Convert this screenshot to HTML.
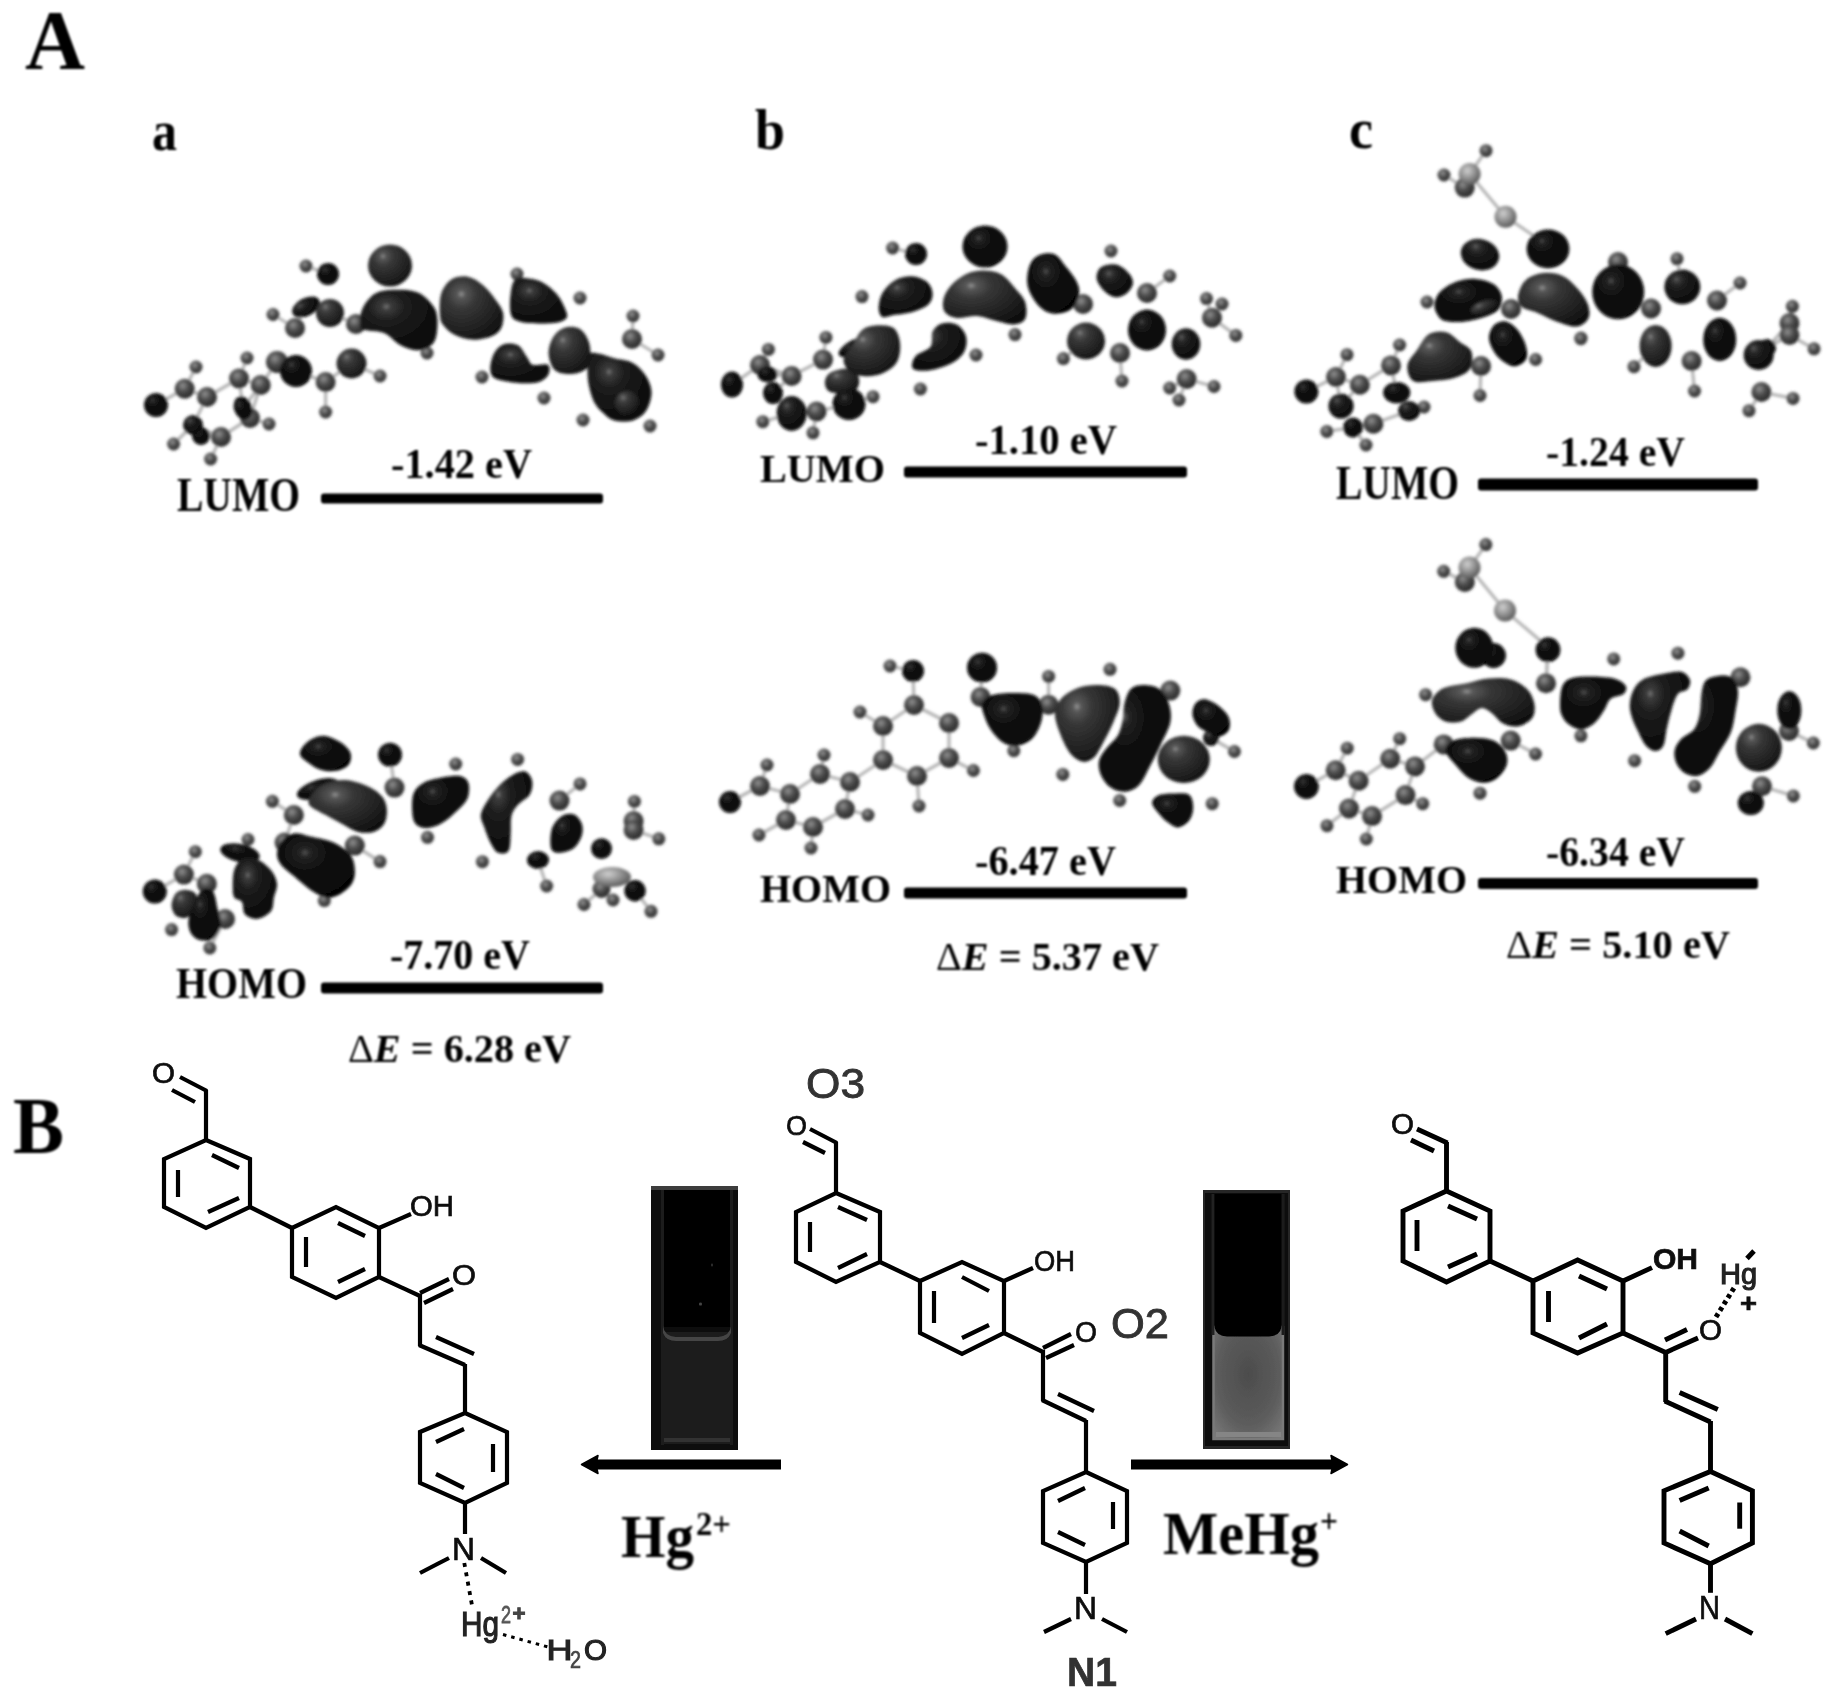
<!DOCTYPE html>
<html><head><meta charset="utf-8"><title>Figure</title>
<style>
html,body{margin:0;padding:0;background:#fff;}
body{width:1834px;height:1699px;overflow:hidden;font-family:"Liberation Serif",serif;}
svg{display:block;}
</style></head><body>
<svg width="1834" height="1699" viewBox="0 0 1834 1699">
<defs>
 <radialGradient id="gD" cx="0.34" cy="0.28" r="0.8"><stop offset="0" stop-color="#7a7a7a"/><stop offset="0.07" stop-color="#3c3c3c"/><stop offset="0.3" stop-color="#1d1d1d"/><stop offset="1" stop-color="#070707"/></radialGradient>
 <radialGradient id="gG" cx="0.34" cy="0.28" r="0.85"><stop offset="0" stop-color="#9a9a9a"/><stop offset="0.07" stop-color="#585858"/><stop offset="0.28" stop-color="#363636"/><stop offset="0.7" stop-color="#1f1f1f"/><stop offset="1" stop-color="#0b0b0b"/></radialGradient>
 <radialGradient id="gK" cx="0.36" cy="0.30" r="0.8"><stop offset="0" stop-color="#555555"/><stop offset="0.08" stop-color="#232323"/><stop offset="0.35" stop-color="#101010"/><stop offset="1" stop-color="#040404"/></radialGradient>
 <radialGradient id="gC" cx="0.40" cy="0.35" r="0.75"><stop offset="0" stop-color="#909090"/><stop offset="0.4" stop-color="#4c4c4c"/><stop offset="1" stop-color="#1e1e1e"/></radialGradient>
 <radialGradient id="gH" cx="0.40" cy="0.35" r="0.75"><stop offset="0" stop-color="#969696"/><stop offset="0.4" stop-color="#505050"/><stop offset="1" stop-color="#262626"/></radialGradient>
 <radialGradient id="gS" cx="0.40" cy="0.35" r="0.75"><stop offset="0" stop-color="#cfcfcf"/><stop offset="0.5" stop-color="#8c8c8c"/><stop offset="1" stop-color="#484848"/></radialGradient>
 <radialGradient id="gLiq" cx="0.5" cy="0.42" r="0.75"><stop offset="0" stop-color="#4c4c4c"/><stop offset="0.6" stop-color="#5c5c5c"/><stop offset="1" stop-color="#7c7c7c"/></radialGradient>
 <filter id="b1" x="-5%" y="-5%" width="110%" height="110%"><feGaussianBlur stdDeviation="1.5"/></filter>
 <filter id="b2" x="-5%" y="-5%" width="110%" height="110%"><feGaussianBlur stdDeviation="0.9"/></filter>
 <filter id="b3" x="-5%" y="-5%" width="110%" height="110%"><feGaussianBlur stdDeviation="0.7"/></filter>
</defs>
<rect width="1834" height="1699" fill="#fff"/>
<g filter="url(#b1)">
<g id="aL"><g stroke="#b4b4b4" stroke-width="3.2" stroke-linecap="round"><line x1="306" y1="266" x2="328" y2="274"/><line x1="273" y1="314.5" x2="295" y2="328"/><line x1="247" y1="358" x2="239" y2="378.5"/><line x1="196" y1="367" x2="184.7" y2="388.7"/><line x1="173.6" y1="444" x2="193" y2="425"/><line x1="210.6" y1="459" x2="221" y2="437"/><line x1="269" y1="424" x2="250" y2="418"/><line x1="325.6" y1="412" x2="325.6" y2="382"/><line x1="380" y1="376" x2="351.5" y2="363.5"/><line x1="633" y1="316" x2="632" y2="339"/><line x1="658" y1="355" x2="632" y2="339"/><line x1="184.7" y1="388.7" x2="207" y2="397"/><line x1="184.7" y1="388.7" x2="156" y2="405"/><line x1="207" y1="397" x2="193" y2="425"/><line x1="239" y1="378.5" x2="260.7" y2="385"/><line x1="239" y1="378.5" x2="243" y2="408"/><line x1="260.7" y1="385" x2="250" y2="418"/><line x1="260.7" y1="385" x2="277" y2="362"/><line x1="260.7" y1="385" x2="243" y2="408"/><line x1="221" y1="437" x2="250" y2="418"/><line x1="221" y1="437" x2="201" y2="436"/><line x1="221" y1="437" x2="193" y2="425"/><line x1="250" y1="418" x2="243" y2="408"/><line x1="295" y1="328" x2="306" y2="307"/><line x1="325.6" y1="382" x2="296" y2="371"/><line x1="325.6" y1="382" x2="351.5" y2="363.5"/><line x1="356" y1="324" x2="330" y2="313"/><line x1="207" y1="397" x2="239" y2="378.5"/><line x1="221" y1="437" x2="250" y2="418"/></g><ellipse cx="306" cy="266" rx="6.5" ry="6.5" fill="url(#gH)"/><ellipse cx="273" cy="314.5" rx="6.5" ry="6.5" fill="url(#gH)"/><ellipse cx="247" cy="358" rx="6.5" ry="6.5" fill="url(#gH)"/><ellipse cx="196" cy="367" rx="6.5" ry="6.5" fill="url(#gH)"/><ellipse cx="173.6" cy="444" rx="6.5" ry="6.5" fill="url(#gH)"/><ellipse cx="210.6" cy="459" rx="6.5" ry="6.5" fill="url(#gH)"/><ellipse cx="269" cy="424" rx="6.5" ry="6.5" fill="url(#gH)"/><ellipse cx="325.6" cy="412" rx="6.5" ry="6.5" fill="url(#gH)"/><ellipse cx="380" cy="376" rx="6.5" ry="6.5" fill="url(#gH)"/><ellipse cx="427" cy="353" rx="6.5" ry="6.5" fill="url(#gH)"/><ellipse cx="517" cy="274" rx="6.5" ry="6.5" fill="url(#gH)"/><ellipse cx="580" cy="298" rx="6.5" ry="6.5" fill="url(#gH)"/><ellipse cx="482" cy="377" rx="6.5" ry="6.5" fill="url(#gH)"/><ellipse cx="544" cy="398" rx="6.5" ry="6.5" fill="url(#gH)"/><ellipse cx="633" cy="316" rx="6.5" ry="6.5" fill="url(#gH)"/><ellipse cx="658" cy="355" rx="6.5" ry="6.5" fill="url(#gH)"/><ellipse cx="583" cy="420" rx="6.5" ry="6.5" fill="url(#gH)"/><ellipse cx="650" cy="426" rx="6.5" ry="6.5" fill="url(#gH)"/><ellipse cx="184.7" cy="388.7" rx="10" ry="10" fill="url(#gC)"/><ellipse cx="207" cy="397" rx="10" ry="10" fill="url(#gC)"/><ellipse cx="239" cy="378.5" rx="10" ry="10" fill="url(#gC)"/><ellipse cx="260.7" cy="385" rx="10" ry="10" fill="url(#gC)"/><ellipse cx="221" cy="437" rx="10" ry="10" fill="url(#gC)"/><ellipse cx="250" cy="418" rx="10" ry="10" fill="url(#gC)"/><ellipse cx="295" cy="328" rx="10" ry="10" fill="url(#gC)"/><ellipse cx="325.6" cy="382" rx="10" ry="10" fill="url(#gC)"/><ellipse cx="632" cy="339" rx="10" ry="10" fill="url(#gC)"/><ellipse cx="356" cy="324" rx="10" ry="10" fill="url(#gC)"/><ellipse cx="390" cy="265.5" rx="22" ry="21" fill="url(#gG)"/><ellipse cx="328" cy="274" rx="11" ry="11" fill="url(#gK)"/><ellipse cx="306" cy="307" rx="15" ry="9" fill="url(#gD)" transform="rotate(-28 306 307)"/><ellipse cx="330" cy="313" rx="14" ry="14" fill="url(#gG)"/><ellipse cx="277" cy="362" rx="11" ry="11" fill="url(#gC)"/><ellipse cx="296" cy="371" rx="16" ry="16" fill="url(#gK)"/><ellipse cx="351.5" cy="363.5" rx="15" ry="15" fill="url(#gG)"/><ellipse cx="156" cy="405" rx="12" ry="12" fill="url(#gK)"/><ellipse cx="201" cy="436" rx="9" ry="9" fill="url(#gK)"/><ellipse cx="243" cy="408" rx="9" ry="12" fill="url(#gK)" transform="rotate(-20 243 408)"/><ellipse cx="193" cy="425" rx="10" ry="10" fill="url(#gD)"/><path d="M360.4,327.7 C359.5,324.1 359.8,314.9 362.2,309.2 C364.7,303.4 369.7,296.6 375.2,293.4 C380.8,290.2 388.5,289.8 395.6,289.7 C402.7,289.5 411.7,289.8 417.9,292.5 C424.0,295.1 429.5,301.1 432.7,305.4 C435.9,309.8 436.9,312.9 437.3,318.4 C437.8,324.0 437.2,333.9 435.5,338.8 C433.8,343.8 430.7,346.2 427.1,348.1 C423.6,349.9 418.8,350.6 414.2,349.9 C409.5,349.3 404.3,347.2 399.3,344.4 C394.4,341.6 389.7,335.6 384.5,333.3 C379.2,330.9 371.8,331.4 367.8,330.5 C363.8,329.5 361.3,331.2 360.4,327.7Z" fill="url(#gD)"/><path d="M440.1,316.6 C439.6,311.3 439.2,300.5 441.0,294.3 C442.9,288.1 446.8,282.4 451.2,279.5 C455.7,276.6 462.7,275.8 467.9,276.7 C473.2,277.6 478.1,281.2 482.8,285.1 C487.4,288.9 492.3,295.3 495.7,299.9 C499.1,304.5 502.2,308.2 503.1,312.9 C504.1,317.5 503.1,323.8 501.3,327.7 C499.4,331.6 496.7,334.0 492.0,336.0 C487.4,338.0 479.7,339.9 473.5,339.7 C467.3,339.6 459.9,337.4 454.9,335.1 C450.0,332.8 446.3,328.9 443.8,325.8 C441.3,322.8 440.6,321.8 440.1,316.6Z" fill="url(#gG)"/><path d="M510.6,312.9 C509.6,308.5 509.8,299.9 510.6,294.3 C511.3,288.8 512.1,282.1 515.2,279.5 C518.3,276.9 524.3,277.9 529.1,278.6 C533.9,279.2 539.3,280.6 543.9,283.2 C548.6,285.8 553.4,290.0 556.9,294.3 C560.5,298.7 563.7,305.1 565.3,309.2 C566.8,313.2 568.2,316.1 566.2,318.4 C564.2,320.7 559.4,322.3 553.2,323.1 C547.0,323.8 535.3,323.5 529.1,323.1 C522.9,322.6 519.2,322.0 516.1,320.3 C513.0,318.6 511.5,317.2 510.6,312.9Z" fill="url(#gD)"/><path d="M490.2,368.5 C490.2,364.5 491.7,357.7 493.9,353.7 C496.0,349.6 499.1,345.8 503.1,344.4 C507.2,343.0 514.0,343.1 518.0,345.3 C522.0,347.5 524.8,354.1 527.2,357.4 C529.7,360.6 529.4,363.5 532.8,364.8 C536.2,366.0 545.0,363.2 547.6,364.8 C550.3,366.3 549.8,371.3 548.6,374.0 C547.3,376.8 544.1,379.9 540.2,381.5 C536.4,383.0 531.0,383.3 525.4,383.3 C519.8,383.3 512.1,382.4 506.9,381.5 C501.6,380.5 496.7,379.9 493.9,377.8 C491.1,375.6 490.2,372.5 490.2,368.5Z" fill="url(#gD)"/><path d="M588.4,353.7 C590.4,351.8 595.2,352.9 599.5,353.7 C603.9,354.4 608.8,356.7 614.4,358.3 C619.9,359.8 627.7,360.0 632.9,362.9 C638.2,365.9 642.8,371.0 645.9,375.9 C649.0,380.8 651.5,386.7 651.5,392.6 C651.5,398.5 649.0,406.5 645.9,411.1 C642.8,415.8 638.2,418.8 632.9,420.4 C627.7,421.9 619.3,421.6 614.4,420.4 C609.4,419.2 606.7,416.1 603.3,413.0 C599.9,409.9 596.5,406.8 594.0,401.9 C591.5,396.9 589.5,389.5 588.4,383.3 C587.3,377.1 587.5,369.7 587.5,364.8 C587.5,359.8 586.4,355.5 588.4,353.7Z" fill="url(#gD)"/><path d="M548.6,353.7 C548.3,348.1 550.6,341.3 553.2,337.0 C555.8,332.6 560.0,329.1 564.3,327.7 C568.6,326.3 575.1,326.5 579.2,328.6 C583.2,330.8 586.6,336.2 588.4,340.7 C590.3,345.2 590.6,350.9 590.3,355.5 C590.0,360.1 589.7,365.4 586.6,368.5 C583.5,371.6 577.0,373.7 571.7,374.0 C566.5,374.4 558.9,373.7 555.1,370.3 C551.2,366.9 548.9,359.2 548.6,353.7Z" fill="url(#gG)"/><ellipse cx="627" cy="403" rx="12" ry="12" fill="url(#gG)"/></g>
<g id="bL"><g stroke="#b4b4b4" stroke-width="3.2" stroke-linecap="round"><line x1="892.6" y1="248" x2="916" y2="254"/><line x1="825.9" y1="337.4" x2="823" y2="359.6"/><line x1="768.4" y1="349.4" x2="760" y2="365"/><line x1="762.8" y1="421.7" x2="791.6" y2="413.4"/><line x1="813" y1="432.8" x2="816.6" y2="411.5"/><line x1="873" y1="396.7" x2="849" y2="404"/><line x1="1169.7" y1="276" x2="1147" y2="293"/><line x1="1063.4" y1="358.6" x2="1086" y2="341"/><line x1="1122" y1="381" x2="1120" y2="353"/><line x1="1206.5" y1="298.6" x2="1212" y2="317.7"/><line x1="1222" y1="304" x2="1212" y2="317.7"/><line x1="1235.8" y1="335.4" x2="1212" y2="317.7"/><line x1="1169.7" y1="388" x2="1186.7" y2="379"/><line x1="1179" y1="400" x2="1186.7" y2="379"/><line x1="1214" y1="386.5" x2="1186.7" y2="379"/><line x1="791.6" y1="376" x2="760" y2="365"/><line x1="791.6" y1="376" x2="767.5" y2="374.4"/><line x1="791.6" y1="376" x2="773" y2="393"/><line x1="816.6" y1="411.5" x2="791.6" y2="413.4"/><line x1="816.6" y1="411.5" x2="849" y2="404"/><line x1="760" y1="365" x2="732" y2="384.6"/><line x1="760" y1="365" x2="767.5" y2="374.4"/><line x1="760" y1="365" x2="773" y2="393"/><line x1="791.6" y1="376" x2="823" y2="359.6"/></g><ellipse cx="892.6" cy="248" rx="6.5" ry="6.5" fill="url(#gH)"/><ellipse cx="862" cy="296.6" rx="6.5" ry="6.5" fill="url(#gH)"/><ellipse cx="825.9" cy="337.4" rx="6.5" ry="6.5" fill="url(#gH)"/><ellipse cx="768.4" cy="349.4" rx="6.5" ry="6.5" fill="url(#gH)"/><ellipse cx="762.8" cy="421.7" rx="6.5" ry="6.5" fill="url(#gH)"/><ellipse cx="813" cy="432.8" rx="6.5" ry="6.5" fill="url(#gH)"/><ellipse cx="873" cy="396.7" rx="6.5" ry="6.5" fill="url(#gH)"/><ellipse cx="920.4" cy="389" rx="6.5" ry="6.5" fill="url(#gH)"/><ellipse cx="976" cy="355" rx="6.5" ry="6.5" fill="url(#gH)"/><ellipse cx="1015" cy="334.6" rx="6.5" ry="6.5" fill="url(#gH)"/><ellipse cx="1111" cy="251" rx="6.5" ry="6.5" fill="url(#gH)"/><ellipse cx="1169.7" cy="276" rx="6.5" ry="6.5" fill="url(#gH)"/><ellipse cx="1063.4" cy="358.6" rx="6.5" ry="6.5" fill="url(#gH)"/><ellipse cx="1122" cy="381" rx="6.5" ry="6.5" fill="url(#gH)"/><ellipse cx="1206.5" cy="298.6" rx="6.5" ry="6.5" fill="url(#gH)"/><ellipse cx="1222" cy="304" rx="6.5" ry="6.5" fill="url(#gH)"/><ellipse cx="1235.8" cy="335.4" rx="6.5" ry="6.5" fill="url(#gH)"/><ellipse cx="1169.7" cy="388" rx="6.5" ry="6.5" fill="url(#gH)"/><ellipse cx="1179" cy="400" rx="6.5" ry="6.5" fill="url(#gH)"/><ellipse cx="1214" cy="386.5" rx="6.5" ry="6.5" fill="url(#gH)"/><ellipse cx="791.6" cy="376" rx="10" ry="10" fill="url(#gC)"/><ellipse cx="823" cy="359.6" rx="10" ry="10" fill="url(#gC)"/><ellipse cx="816.6" cy="411.5" rx="10" ry="10" fill="url(#gC)"/><ellipse cx="1083" cy="304" rx="10" ry="10" fill="url(#gC)"/><ellipse cx="1147" cy="293" rx="10" ry="10" fill="url(#gC)"/><ellipse cx="1120" cy="353" rx="10" ry="10" fill="url(#gC)"/><ellipse cx="1212" cy="317.7" rx="10" ry="10" fill="url(#gC)"/><ellipse cx="1186.7" cy="379" rx="10" ry="10" fill="url(#gC)"/><ellipse cx="760" cy="365" rx="10" ry="10" fill="url(#gC)"/><ellipse cx="985" cy="246.5" rx="22.5" ry="21" fill="url(#gK)"/><ellipse cx="916" cy="254" rx="11" ry="11" fill="url(#gK)"/><ellipse cx="732" cy="384.6" rx="11" ry="13" fill="url(#gK)"/><ellipse cx="767.5" cy="374.4" rx="10" ry="8" fill="url(#gK)"/><ellipse cx="773" cy="393" rx="10" ry="11" fill="url(#gK)"/><ellipse cx="791.6" cy="413.4" rx="15" ry="17.5" fill="url(#gD)"/><ellipse cx="849" cy="404" rx="16.5" ry="16" fill="url(#gK)"/><ellipse cx="1086" cy="341" rx="19" ry="18.4" fill="url(#gG)"/><ellipse cx="1147" cy="330" rx="19" ry="20.4" fill="url(#gK)"/><ellipse cx="1186" cy="344" rx="14.3" ry="15.7" fill="url(#gD)"/><path d="M943.6,298.4 C944.7,294.1 947.3,289.5 951.0,285.4 C954.7,281.4 960.6,276.8 965.8,274.3 C971.1,271.9 976.7,270.6 982.5,270.6 C988.4,270.6 995.5,271.2 1001.1,274.3 C1006.6,277.4 1011.9,284.5 1015.9,289.2 C1019.9,293.8 1023.6,297.2 1025.2,302.1 C1026.7,307.1 1027.0,315.1 1025.2,318.8 C1023.3,322.5 1019.0,324.1 1014.0,324.4 C1009.1,324.7 1001.7,322.1 995.5,320.7 C989.3,319.3 983.5,316.5 977.0,316.0 C970.5,315.6 962.0,318.7 956.6,317.9 C951.2,317.1 946.7,314.6 944.5,311.4 C942.4,308.2 942.5,302.8 943.6,298.4Z" fill="url(#gG)"/><path d="M878.7,307.7 C878.7,303.7 879.6,297.5 882.4,292.9 C885.2,288.2 890.4,282.7 895.4,279.9 C900.3,277.1 906.8,275.9 912.1,276.2 C917.3,276.5 923.5,279.0 926.9,281.7 C930.3,284.5 932.2,289.2 932.5,292.9 C932.8,296.6 931.9,300.9 928.8,304.0 C925.7,307.1 919.8,309.5 913.9,311.4 C908.1,313.3 898.8,314.2 893.5,315.1 C888.3,316.0 884.9,318.2 882.4,317.0 C879.9,315.7 878.7,311.7 878.7,307.7Z" fill="url(#gD)"/><ellipse cx="854" cy="347" rx="17" ry="7" fill="url(#gK)" transform="rotate(-28 854 347)"/><path d="M824.9,381.9 C825.3,378.8 826.8,374.7 830.5,372.6 C834.2,370.4 842.6,368.3 847.2,368.9 C851.8,369.5 856.8,372.9 858.3,376.3 C859.9,379.7 859.5,386.5 856.5,389.3 C853.4,392.0 844.4,392.7 839.8,393.0 C835.1,393.3 831.1,393.0 828.7,391.1 C826.2,389.3 824.6,384.9 824.9,381.9Z" fill="url(#gG)"/><path d="M843.5,359.6 C843.8,355.0 849.7,349.7 852.8,344.8 C855.8,339.8 858.0,333.2 862.0,329.9 C866.0,326.7 871.6,325.6 876.9,325.3 C882.1,325.0 889.7,325.2 893.5,328.1 C897.4,331.0 899.4,337.4 900.0,342.9 C900.6,348.5 899.9,356.5 897.2,361.5 C894.6,366.4 889.2,370.1 884.3,372.6 C879.3,375.1 873.1,376.3 867.6,376.3 C862.0,376.3 854.9,375.4 850.9,372.6 C846.9,369.8 843.2,364.2 843.5,359.6Z" fill="url(#gG)"/><path d="M912.1,367.0 C911.5,364.5 912.7,359.3 915.8,355.9 C918.9,352.5 927.8,350.6 930.6,346.6 C933.4,342.6 930.6,335.7 932.5,331.8 C934.3,327.9 937.7,324.7 941.7,323.5 C945.8,322.2 952.6,322.4 956.6,324.4 C960.6,326.4 964.4,331.2 965.8,335.5 C967.2,339.8 966.8,346.0 964.9,350.3 C963.1,354.7 959.5,358.4 954.7,361.5 C949.9,364.5 942.0,367.3 936.2,368.9 C930.3,370.4 923.5,371.0 919.5,370.7 C915.5,370.4 912.7,369.5 912.1,367.0Z" fill="url(#gD)"/><path d="M1027.3,283.6 C1026.6,277.7 1027.9,269.3 1030.0,264.5 C1032.0,259.8 1035.4,256.7 1039.5,255.0 C1043.6,253.3 1050.2,252.5 1054.5,254.3 C1058.8,256.1 1061.8,261.5 1065.4,265.9 C1069.1,270.3 1074.1,276.3 1076.3,280.9 C1078.6,285.4 1079.7,288.6 1079.1,293.2 C1078.4,297.7 1075.7,304.7 1072.2,308.2 C1068.8,311.6 1063.2,313.1 1058.6,313.6 C1054.1,314.1 1049.1,313.1 1045.0,310.9 C1040.9,308.6 1037.0,304.5 1034.1,300.0 C1031.1,295.4 1027.9,289.5 1027.3,283.6Z" fill="url(#gK)"/><path d="M1096.8,279.5 C1095.9,275.7 1097.5,271.1 1099.5,268.6 C1101.6,266.1 1105.6,265.0 1109.1,264.5 C1112.5,264.1 1116.5,264.3 1120.0,265.9 C1123.4,267.5 1127.3,271.1 1129.5,274.1 C1131.7,277.0 1133.4,280.4 1132.9,283.6 C1132.5,286.8 1129.6,290.9 1126.8,293.2 C1123.9,295.4 1119.5,297.5 1115.9,297.2 C1112.2,297.0 1108.1,294.7 1105.0,291.8 C1101.8,288.8 1097.7,283.4 1096.8,279.5Z" fill="url(#gD)"/></g>
<g id="cL"><g stroke="#b4b4b4" stroke-width="3.2" stroke-linecap="round"><line x1="1486" y1="150.7" x2="1469.6" y2="174"/><line x1="1444" y1="175" x2="1464.7" y2="187.6"/><line x1="1399.6" y1="345" x2="1391" y2="365.4"/><line x1="1347" y1="354.7" x2="1336" y2="377"/><line x1="1326.8" y1="431.4" x2="1353" y2="427.5"/><line x1="1366" y1="445" x2="1353" y2="427.5"/><line x1="1424" y1="407" x2="1409" y2="411"/><line x1="1480" y1="395.5" x2="1481" y2="366"/><line x1="1677" y1="258.8" x2="1682.3" y2="286.9"/><line x1="1740" y1="283" x2="1717" y2="300.5"/><line x1="1634" y1="366.7" x2="1655.6" y2="345.9"/><line x1="1694.5" y1="391" x2="1691.6" y2="361"/><line x1="1792.4" y1="306.3" x2="1789.5" y2="323"/><line x1="1814" y1="348.8" x2="1789.5" y2="335"/><line x1="1793" y1="398.4" x2="1761.4" y2="392"/><line x1="1749" y1="410.7" x2="1761.4" y2="392"/><line x1="1336" y1="377" x2="1359.8" y2="384.8"/><line x1="1336" y1="377" x2="1306.4" y2="391.6"/><line x1="1336" y1="377" x2="1341" y2="406"/><line x1="1359.8" y1="384.8" x2="1341" y2="406"/><line x1="1391" y1="365.4" x2="1396.7" y2="392.6"/><line x1="1373.4" y1="423.7" x2="1353" y2="427.5"/><line x1="1789.5" y1="323" x2="1789.5" y2="335"/><line x1="1789.5" y1="323" x2="1767" y2="348"/><line x1="1789.5" y1="335" x2="1767" y2="348"/><line x1="1618" y1="262" x2="1618.2" y2="291.9"/><line x1="1464.7" y1="187.6" x2="1469.6" y2="174"/><line x1="1469.6" y1="174" x2="1505.5" y2="216.7"/><line x1="1505.5" y1="216.7" x2="1540" y2="240"/><line x1="1359.8" y1="384.8" x2="1391" y2="365.4"/><line x1="1373.4" y1="423.7" x2="1409" y2="411"/></g><ellipse cx="1486" cy="150.7" rx="6.5" ry="6.5" fill="url(#gH)"/><ellipse cx="1444" cy="175" rx="6.5" ry="6.5" fill="url(#gH)"/><ellipse cx="1427" cy="302" rx="6.5" ry="6.5" fill="url(#gH)"/><ellipse cx="1399.6" cy="345" rx="6.5" ry="6.5" fill="url(#gH)"/><ellipse cx="1347" cy="354.7" rx="6.5" ry="6.5" fill="url(#gH)"/><ellipse cx="1326.8" cy="431.4" rx="6.5" ry="6.5" fill="url(#gH)"/><ellipse cx="1366" cy="445" rx="6.5" ry="6.5" fill="url(#gH)"/><ellipse cx="1424" cy="407" rx="6.5" ry="6.5" fill="url(#gH)"/><ellipse cx="1480" cy="395.5" rx="6.5" ry="6.5" fill="url(#gH)"/><ellipse cx="1535.6" cy="359.5" rx="6.5" ry="6.5" fill="url(#gH)"/><ellipse cx="1581" cy="338" rx="6.5" ry="6.5" fill="url(#gH)"/><ellipse cx="1677" cy="258.8" rx="6.5" ry="6.5" fill="url(#gH)"/><ellipse cx="1740" cy="283" rx="6.5" ry="6.5" fill="url(#gH)"/><ellipse cx="1634" cy="366.7" rx="6.5" ry="6.5" fill="url(#gH)"/><ellipse cx="1694.5" cy="391" rx="6.5" ry="6.5" fill="url(#gH)"/><ellipse cx="1792.4" cy="306.3" rx="6.5" ry="6.5" fill="url(#gH)"/><ellipse cx="1814" cy="348.8" rx="6.5" ry="6.5" fill="url(#gH)"/><ellipse cx="1793" cy="398.4" rx="6.5" ry="6.5" fill="url(#gH)"/><ellipse cx="1749" cy="410.7" rx="6.5" ry="6.5" fill="url(#gH)"/><ellipse cx="1580.8" cy="338.7" rx="6.5" ry="6.5" fill="url(#gH)"/><ellipse cx="1336" cy="377" rx="10" ry="10" fill="url(#gC)"/><ellipse cx="1359.8" cy="384.8" rx="10" ry="10" fill="url(#gC)"/><ellipse cx="1391" cy="365.4" rx="10" ry="10" fill="url(#gC)"/><ellipse cx="1373.4" cy="423.7" rx="10" ry="10" fill="url(#gC)"/><ellipse cx="1481" cy="366" rx="10" ry="10" fill="url(#gC)"/><ellipse cx="1651" cy="308.5" rx="10" ry="10" fill="url(#gC)"/><ellipse cx="1717" cy="300.5" rx="10" ry="10" fill="url(#gC)"/><ellipse cx="1691.6" cy="361" rx="10" ry="10" fill="url(#gC)"/><ellipse cx="1789.5" cy="323" rx="10" ry="10" fill="url(#gC)"/><ellipse cx="1789.5" cy="335" rx="10" ry="10" fill="url(#gC)"/><ellipse cx="1761.4" cy="392" rx="10" ry="10" fill="url(#gC)"/><ellipse cx="1511" cy="309" rx="10" ry="10" fill="url(#gC)"/><ellipse cx="1618" cy="262" rx="10" ry="10" fill="url(#gC)"/><ellipse cx="1464.7" cy="187.6" rx="10" ry="10" fill="url(#gC)"/><ellipse cx="1469.6" cy="174" rx="11" ry="11" fill="url(#gS)"/><ellipse cx="1505.5" cy="216.7" rx="11" ry="11" fill="url(#gS)"/><ellipse cx="1548" cy="248.8" rx="21.4" ry="19.4" fill="url(#gK)"/><ellipse cx="1480" cy="254.6" rx="19.4" ry="15.5" fill="url(#gD)" transform="rotate(15 1480 254.6)"/><ellipse cx="1618.2" cy="291.9" rx="26" ry="27.4" fill="url(#gK)"/><ellipse cx="1682.3" cy="286.9" rx="18" ry="17.3" fill="url(#gD)"/><ellipse cx="1655.6" cy="345.9" rx="16" ry="21" fill="url(#gG)"/><ellipse cx="1719.7" cy="339.4" rx="16.5" ry="21.6" fill="url(#gK)"/><ellipse cx="1767" cy="348" rx="9" ry="9" fill="url(#gK)"/><ellipse cx="1758.6" cy="355" rx="15" ry="15" fill="url(#gD)"/><ellipse cx="1306.4" cy="391.6" rx="12" ry="12" fill="url(#gK)"/><ellipse cx="1396.7" cy="392.6" rx="13.6" ry="10.7" fill="url(#gK)"/><ellipse cx="1341" cy="406" rx="12.6" ry="12.6" fill="url(#gD)"/><ellipse cx="1409" cy="411" rx="11" ry="10" fill="url(#gD)"/><ellipse cx="1353" cy="427.5" rx="10" ry="10" fill="url(#gK)"/><path d="M1434.6,303.2 C1435.2,299.6 1436.9,295.1 1440.4,291.5 C1444.0,288.0 1450.1,283.9 1456.0,281.8 C1461.8,279.7 1469.2,278.6 1475.4,278.9 C1481.6,279.2 1488.5,281.0 1492.9,283.8 C1497.3,286.5 1500.7,291.2 1501.6,295.4 C1502.6,299.6 1501.5,305.5 1498.7,309.0 C1496.0,312.6 1490.9,314.7 1485.1,316.8 C1479.3,318.9 1470.5,321.0 1463.7,321.7 C1456.9,322.3 1448.8,322.1 1444.3,320.7 C1439.8,319.2 1438.2,315.8 1436.5,312.9 C1434.9,310.0 1434.0,306.8 1434.6,303.2Z" fill="url(#gK)"/><ellipse cx="1484" cy="307" rx="14" ry="6" fill="url(#gG)" transform="rotate(-20 1484 307)"/><path d="M1518.1,295.4 C1518.8,290.9 1521.7,283.6 1525.9,279.9 C1530.1,276.2 1537.3,273.7 1543.4,273.1 C1549.6,272.4 1557.0,273.2 1562.8,276.0 C1568.7,278.8 1574.2,284.7 1578.4,289.6 C1582.6,294.5 1586.5,300.3 1588.1,305.1 C1589.7,310.0 1590.0,315.2 1588.1,318.7 C1586.1,322.3 1581.6,326.0 1576.4,326.5 C1571.3,327.0 1563.5,323.9 1557.0,321.7 C1550.5,319.4 1543.4,315.3 1537.6,312.9 C1531.7,310.5 1525.3,310.0 1522.0,307.1 C1518.8,304.2 1517.5,300.0 1518.1,295.4Z" fill="url(#gG)"/><path d="M1489.0,336.2 C1489.5,332.3 1491.9,327.0 1494.8,324.6 C1497.7,322.1 1502.6,320.7 1506.5,321.7 C1510.4,322.6 1514.9,326.4 1518.1,330.4 C1521.4,334.4 1524.6,341.1 1525.9,345.9 C1527.2,350.8 1527.9,356.1 1525.9,359.5 C1524.0,362.9 1518.5,366.3 1514.3,366.3 C1510.1,366.3 1504.4,362.6 1500.7,359.5 C1496.9,356.5 1493.9,351.8 1491.9,347.9 C1490.0,344.0 1488.5,340.1 1489.0,336.2Z" fill="url(#gK)"/><path d="M1407.4,365.4 C1408.0,360.2 1413.6,355.0 1417.1,349.8 C1420.7,344.6 1423.9,337.2 1428.8,334.3 C1433.6,331.4 1441.1,331.0 1446.3,332.3 C1451.4,333.6 1455.6,338.8 1459.9,342.1 C1464.1,345.3 1469.9,347.2 1471.5,351.8 C1473.1,356.3 1472.5,364.9 1469.6,369.3 C1466.7,373.6 1460.2,376.1 1454.0,378.0 C1447.9,379.9 1439.5,380.4 1432.7,380.9 C1425.9,381.4 1417.4,383.5 1413.2,380.9 C1409.0,378.3 1406.8,370.6 1407.4,365.4Z" fill="url(#gG)"/></g>
<g id="aH"><g stroke="#b4b4b4" stroke-width="3.2" stroke-linecap="round"><line x1="272.4" y1="801.3" x2="293.8" y2="815"/><line x1="195.3" y1="851.7" x2="183.9" y2="874.6"/><line x1="209.8" y1="947.9" x2="225" y2="919"/><line x1="380" y1="861.6" x2="354.8" y2="845.6"/><line x1="580" y1="783.9" x2="559.5" y2="800.6"/><line x1="546.6" y1="886" x2="538" y2="860"/><line x1="634.4" y1="801.4" x2="633.6" y2="821"/><line x1="658.8" y1="838.8" x2="633.6" y2="830"/><line x1="584" y1="904.5" x2="601.5" y2="889"/><line x1="613" y1="900" x2="601.5" y2="889"/><line x1="651" y1="911.3" x2="635" y2="890.7"/><line x1="293.8" y1="815" x2="284.6" y2="842.6"/><line x1="394.5" y1="787.6" x2="390" y2="754.8"/><line x1="633.6" y1="821" x2="633.6" y2="830"/><line x1="183.9" y1="874.6" x2="206.8" y2="883.8"/><line x1="183.9" y1="874.6" x2="154.8" y2="891.4"/></g><ellipse cx="272.4" cy="801.3" rx="6.5" ry="6.5" fill="url(#gH)"/><ellipse cx="195.3" cy="851.7" rx="6.5" ry="6.5" fill="url(#gH)"/><ellipse cx="248" cy="839.5" rx="6.5" ry="6.5" fill="url(#gH)"/><ellipse cx="171.6" cy="929.6" rx="6.5" ry="6.5" fill="url(#gH)"/><ellipse cx="209.8" cy="947.9" rx="6.5" ry="6.5" fill="url(#gH)"/><ellipse cx="324.3" cy="900.6" rx="6.5" ry="6.5" fill="url(#gH)"/><ellipse cx="380" cy="861.6" rx="6.5" ry="6.5" fill="url(#gH)"/><ellipse cx="427.5" cy="837.3" rx="6.5" ry="6.5" fill="url(#gH)"/><ellipse cx="455.7" cy="764" rx="6.5" ry="6.5" fill="url(#gH)"/><ellipse cx="517.6" cy="759.4" rx="6.5" ry="6.5" fill="url(#gH)"/><ellipse cx="580" cy="783.9" rx="6.5" ry="6.5" fill="url(#gH)"/><ellipse cx="482.4" cy="861.7" rx="6.5" ry="6.5" fill="url(#gH)"/><ellipse cx="546.6" cy="886" rx="6.5" ry="6.5" fill="url(#gH)"/><ellipse cx="634.4" cy="801.4" rx="6.5" ry="6.5" fill="url(#gH)"/><ellipse cx="658.8" cy="838.8" rx="6.5" ry="6.5" fill="url(#gH)"/><ellipse cx="584" cy="904.5" rx="6.5" ry="6.5" fill="url(#gH)"/><ellipse cx="613" cy="900" rx="6.5" ry="6.5" fill="url(#gH)"/><ellipse cx="651" cy="911.3" rx="6.5" ry="6.5" fill="url(#gH)"/><ellipse cx="293.8" cy="815" rx="10" ry="10" fill="url(#gC)"/><ellipse cx="394.5" cy="787.6" rx="10" ry="10" fill="url(#gC)"/><ellipse cx="559.5" cy="800.6" rx="10" ry="10" fill="url(#gC)"/><ellipse cx="633.6" cy="821" rx="10" ry="10" fill="url(#gC)"/><ellipse cx="633.6" cy="830" rx="10" ry="10" fill="url(#gC)"/><ellipse cx="284.6" cy="842.6" rx="10" ry="10" fill="url(#gC)"/><ellipse cx="354.8" cy="845.6" rx="10" ry="10" fill="url(#gC)"/><ellipse cx="183.9" cy="874.6" rx="10" ry="10" fill="url(#gC)"/><ellipse cx="206.8" cy="883.8" rx="10" ry="10" fill="url(#gC)"/><ellipse cx="225" cy="919" rx="10" ry="10" fill="url(#gC)"/><ellipse cx="390" cy="754.8" rx="12" ry="12" fill="url(#gK)"/><ellipse cx="154.8" cy="891.4" rx="12" ry="12" fill="url(#gK)"/><ellipse cx="601.5" cy="848.7" rx="10.4" ry="10.4" fill="url(#gK)"/><ellipse cx="635" cy="890.7" rx="10.7" ry="10.7" fill="url(#gK)"/><ellipse cx="601.5" cy="889" rx="9" ry="9" fill="url(#gC)"/><ellipse cx="538" cy="860" rx="11" ry="9" fill="url(#gK)"/><ellipse cx="612" cy="877" rx="19" ry="10" fill="url(#gS)"/><path d="M299.9,754.0 C299.6,750.4 303.7,744.8 307.5,741.8 C311.3,738.7 317.4,735.7 322.8,735.7 C328.1,735.7 335.0,739.0 339.6,741.8 C344.2,744.6 348.7,748.7 350.3,752.5 C351.8,756.3 351.0,761.6 348.7,764.7 C346.5,767.7 341.1,769.9 336.5,770.8 C331.9,771.7 325.8,771.3 321.3,770.0 C316.7,768.8 312.6,765.8 309.0,763.2 C305.5,760.5 300.1,757.6 299.9,754.0Z" fill="url(#gK)"/><ellipse cx="318" cy="789" rx="22" ry="9" fill="url(#gK)" transform="rotate(-18 318 789)"/><path d="M309.0,804.4 C307.0,800.6 310.8,795.7 313.6,792.2 C316.4,788.6 320.5,785.1 325.8,783.0 C331.2,781.0 338.8,779.5 345.7,780.0 C352.6,780.5 361.0,783.3 367.1,786.1 C373.2,788.9 379.0,792.7 382.3,796.8 C385.6,800.8 386.7,805.9 386.9,810.5 C387.2,815.1 386.1,820.7 383.9,824.2 C381.6,827.8 377.5,830.6 373.2,831.9 C368.8,833.1 363.0,833.1 357.9,831.9 C352.8,830.6 348.0,827.0 342.6,824.2 C337.3,821.4 331.4,818.4 325.8,815.1 C320.2,811.8 311.1,808.2 309.0,804.4Z" fill="url(#gG)"/><path d="M277.0,854.8 C277.0,850.7 278.8,844.6 281.6,841.0 C284.4,837.5 288.9,834.2 293.8,833.4 C298.6,832.6 304.0,834.9 310.6,836.5 C317.2,838.0 326.9,839.5 333.5,842.6 C340.1,845.6 346.7,850.2 350.3,854.8 C353.8,859.4 354.6,865.2 354.8,870.0 C355.1,874.9 354.3,879.7 351.8,883.8 C349.2,887.8 343.9,892.2 339.6,894.5 C335.3,896.8 330.7,898.3 325.8,897.5 C321.0,896.8 315.9,893.4 310.6,889.9 C305.2,886.3 298.6,880.2 293.8,876.1 C288.9,872.1 284.4,869.0 281.6,865.5 C278.8,861.9 277.0,858.8 277.0,854.8Z" fill="url(#gK)"/><ellipse cx="240" cy="853" rx="20" ry="9" fill="url(#gK)" transform="rotate(12 240 853)"/><path d="M232.7,886.8 C232.7,882.3 232.7,874.6 234.2,870.0 C235.8,865.5 238.1,861.1 241.9,859.4 C245.7,857.6 252.3,857.6 257.1,859.4 C262.0,861.1 267.6,866.0 270.9,870.0 C274.2,874.1 276.5,879.2 277.0,883.8 C277.5,888.4 274.9,892.9 273.9,897.5 C272.9,902.1 273.7,907.7 270.9,911.3 C268.1,914.8 261.5,918.4 257.1,918.9 C252.8,919.4 247.5,917.1 244.9,914.3 C242.4,911.5 243.7,904.9 241.9,902.1 C240.1,899.3 235.8,900.1 234.2,897.5 C232.7,895.0 232.7,891.4 232.7,886.8Z" fill="url(#gD)"/><path d="M171.6,905.2 C171.6,901.3 173.7,895.5 176.2,892.9 C178.8,890.4 183.6,889.6 186.9,889.9 C190.2,890.1 194.5,891.4 196.1,894.5 C197.6,897.5 197.6,904.4 196.1,908.2 C194.5,912.0 190.2,916.1 186.9,917.4 C183.6,918.6 178.8,917.9 176.2,915.8 C173.7,913.8 171.6,909.0 171.6,905.2Z" fill="url(#gG)"/><path d="M188.4,921.9 C188.7,917.1 190.7,910.5 193.0,905.2 C195.3,899.8 198.9,892.2 202.2,889.9 C205.5,887.6 210.3,888.4 212.9,891.4 C215.4,894.5 216.2,902.6 217.4,908.2 C218.7,913.8 221.3,919.9 220.5,925.0 C219.7,930.1 216.2,936.2 212.9,938.7 C209.6,941.3 204.2,941.0 200.6,940.3 C197.1,939.5 193.5,937.2 191.5,934.2 C189.5,931.1 188.2,926.8 188.4,921.9Z" fill="url(#gK)"/><path d="M412.2,811.3 C412.0,806.2 411.7,797.8 413.7,793.0 C415.8,788.2 419.3,785.0 424.4,782.3 C429.5,779.7 438.2,778.0 444.3,777.0 C450.4,776.0 457.0,775.1 461.1,776.2 C465.1,777.4 467.7,780.0 468.7,783.9 C469.7,787.7 469.2,794.5 467.2,799.1 C465.1,803.7 460.8,807.3 456.5,811.3 C452.2,815.4 446.3,820.8 441.2,823.5 C436.1,826.3 430.3,828.1 426.0,828.1 C421.6,828.1 417.6,826.3 415.3,823.5 C413.0,820.8 412.5,816.4 412.2,811.3Z" fill="url(#gK)"/><path d="M480.9,814.4 C481.7,809.8 485.5,804.0 488.5,799.1 C491.6,794.3 495.2,789.5 499.2,785.4 C503.3,781.3 508.7,777.0 513.0,774.7 C517.3,772.4 522.0,770.6 525.2,771.6 C528.4,772.7 531.3,777.0 532.1,780.8 C532.8,784.6 532.2,790.5 529.8,794.5 C527.4,798.6 520.6,801.7 517.6,805.2 C514.5,808.8 512.6,811.1 511.5,815.9 C510.3,820.8 511.2,828.4 510.7,834.2 C510.2,840.1 510.6,848.0 508.4,851.0 C506.2,854.1 500.8,854.1 497.7,852.6 C494.7,851.0 492.4,846.2 490.1,841.9 C487.8,837.5 485.5,831.2 484.0,826.6 C482.4,822.0 480.2,819.0 480.9,814.4Z" fill="url(#gD)"/><path d="M550.4,841.9 C550.4,837.8 550.8,830.9 552.7,826.6 C554.6,822.3 558.3,818.0 561.8,815.9 C565.4,813.9 570.7,813.1 574.0,814.4 C577.4,815.7 580.4,820.0 581.7,823.5 C583.0,827.1 583.0,831.7 581.7,835.8 C580.4,839.8 577.4,845.2 574.0,848.0 C570.7,850.8 565.4,852.0 561.8,852.6 C558.3,853.1 554.6,852.8 552.7,851.0 C550.8,849.2 550.4,845.9 550.4,841.9Z" fill="url(#gK)"/></g>
<g id="bH"><g stroke="#b4b4b4" stroke-width="3.2" stroke-linecap="round"><line x1="890" y1="666" x2="913" y2="671"/><line x1="860" y1="712" x2="883" y2="726"/><line x1="824" y1="755" x2="820" y2="774"/><line x1="767" y1="765" x2="760" y2="786"/><line x1="759" y1="835" x2="786" y2="820"/><line x1="811" y1="848" x2="813" y2="827"/><line x1="868" y1="815" x2="845" y2="809"/><line x1="919" y1="806" x2="917" y2="776"/><line x1="973.4" y1="770.5" x2="949" y2="758"/><line x1="1048.6" y1="676.4" x2="1048.6" y2="704.8"/><line x1="1234.4" y1="751.5" x2="1211" y2="738"/><line x1="914" y1="705" x2="883" y2="726"/><line x1="914" y1="705" x2="949" y2="723"/><line x1="914" y1="705" x2="913" y2="671"/><line x1="883" y1="726" x2="883" y2="760"/><line x1="949" y1="723" x2="949" y2="758"/><line x1="883" y1="760" x2="917" y2="776"/><line x1="883" y1="760" x2="850" y2="782"/><line x1="949" y1="758" x2="917" y2="776"/><line x1="850" y1="782" x2="820" y2="774"/><line x1="850" y1="782" x2="845" y2="809"/><line x1="820" y1="774" x2="790" y2="794"/><line x1="790" y1="794" x2="760" y2="786"/><line x1="790" y1="794" x2="786" y2="820"/><line x1="760" y1="786" x2="730" y2="802"/><line x1="845" y1="809" x2="813" y2="827"/><line x1="786" y1="820" x2="813" y2="827"/><line x1="980.6" y1="697" x2="982" y2="667.7"/></g><ellipse cx="890" cy="666" rx="6.5" ry="6.5" fill="url(#gH)"/><ellipse cx="860" cy="712" rx="6.5" ry="6.5" fill="url(#gH)"/><ellipse cx="824" cy="755" rx="6.5" ry="6.5" fill="url(#gH)"/><ellipse cx="767" cy="765" rx="6.5" ry="6.5" fill="url(#gH)"/><ellipse cx="759" cy="835" rx="6.5" ry="6.5" fill="url(#gH)"/><ellipse cx="811" cy="848" rx="6.5" ry="6.5" fill="url(#gH)"/><ellipse cx="868" cy="815" rx="6.5" ry="6.5" fill="url(#gH)"/><ellipse cx="919" cy="806" rx="6.5" ry="6.5" fill="url(#gH)"/><ellipse cx="973.4" cy="770.5" rx="6.5" ry="6.5" fill="url(#gH)"/><ellipse cx="1013.8" cy="750.7" rx="6.5" ry="6.5" fill="url(#gH)"/><ellipse cx="1048.6" cy="676.4" rx="6.5" ry="6.5" fill="url(#gH)"/><ellipse cx="1110" cy="669.3" rx="6.5" ry="6.5" fill="url(#gH)"/><ellipse cx="1062.8" cy="774.4" rx="6.5" ry="6.5" fill="url(#gH)"/><ellipse cx="1119.7" cy="800.5" rx="6.5" ry="6.5" fill="url(#gH)"/><ellipse cx="1234.4" cy="751.5" rx="6.5" ry="6.5" fill="url(#gH)"/><ellipse cx="1212.2" cy="803.7" rx="6.5" ry="6.5" fill="url(#gH)"/><ellipse cx="914" cy="705" rx="10" ry="10" fill="url(#gC)"/><ellipse cx="883" cy="726" rx="10" ry="10" fill="url(#gC)"/><ellipse cx="949" cy="723" rx="10" ry="10" fill="url(#gC)"/><ellipse cx="883" cy="760" rx="10" ry="10" fill="url(#gC)"/><ellipse cx="949" cy="758" rx="10" ry="10" fill="url(#gC)"/><ellipse cx="917" cy="776" rx="10" ry="10" fill="url(#gC)"/><ellipse cx="850" cy="782" rx="10" ry="10" fill="url(#gC)"/><ellipse cx="820" cy="774" rx="10" ry="10" fill="url(#gC)"/><ellipse cx="790" cy="794" rx="10" ry="10" fill="url(#gC)"/><ellipse cx="760" cy="786" rx="10" ry="10" fill="url(#gC)"/><ellipse cx="845" cy="809" rx="10" ry="10" fill="url(#gC)"/><ellipse cx="786" cy="820" rx="10" ry="10" fill="url(#gC)"/><ellipse cx="813" cy="827" rx="10" ry="10" fill="url(#gC)"/><ellipse cx="980.6" cy="697" rx="10" ry="10" fill="url(#gC)"/><ellipse cx="1048.6" cy="704.8" rx="10" ry="10" fill="url(#gC)"/><ellipse cx="1170.3" cy="690.6" rx="10" ry="10" fill="url(#gC)"/><ellipse cx="982" cy="667.7" rx="15" ry="15" fill="url(#gK)"/><ellipse cx="913" cy="671" rx="11" ry="11" fill="url(#gK)"/><ellipse cx="730" cy="802" rx="11" ry="11" fill="url(#gK)"/><ellipse cx="1211" cy="738" rx="8" ry="8" fill="url(#gD)"/><path d="M982.1,703.3 C983.5,700.1 986.4,697.1 991.6,695.3 C996.9,693.6 1006.6,693.0 1013.8,693.0 C1020.9,693.0 1029.6,693.1 1034.3,695.3 C1039.1,697.6 1041.2,701.7 1042.2,706.4 C1043.3,711.2 1042.5,718.3 1040.6,723.8 C1038.8,729.3 1035.4,735.9 1031.2,739.6 C1026.9,743.3 1020.4,745.7 1015.3,745.9 C1010.3,746.2 1005.3,744.1 1001.1,741.2 C996.9,738.3 992.9,733.0 990.0,728.6 C987.1,724.1 985.0,718.5 983.7,714.3 C982.4,710.1 980.8,706.4 982.1,703.3Z" fill="url(#gK)"/><path d="M1054.9,714.3 C1054.9,708.0 1057.5,702.9 1061.2,698.5 C1064.9,694.2 1071.0,690.5 1077.0,688.2 C1083.1,686.0 1091.2,684.9 1097.6,685.1 C1103.9,685.2 1111.3,686.0 1115.0,689.0 C1118.7,692.1 1120.0,697.7 1119.7,703.3 C1119.4,708.8 1116.0,715.9 1113.4,722.2 C1110.7,728.6 1107.1,735.4 1103.9,741.2 C1100.7,747.0 1097.8,753.6 1094.4,757.0 C1091.0,760.4 1087.3,762.3 1083.3,761.8 C1079.4,761.2 1074.4,758.1 1070.7,753.9 C1067.0,749.6 1063.8,743.0 1061.2,736.5 C1058.6,729.9 1054.9,720.6 1054.9,714.3Z" fill="url(#gG)"/><path d="M1124.5,703.3 C1125.8,698.2 1127.6,692.1 1130.8,689.0 C1133.9,686.0 1138.7,685.1 1143.4,685.1 C1148.2,685.1 1155.0,686.0 1159.2,689.0 C1163.5,692.1 1166.9,697.7 1168.7,703.3 C1170.6,708.8 1171.6,715.4 1170.3,722.2 C1169.0,729.1 1164.2,737.0 1160.8,744.4 C1157.4,751.7 1153.4,759.7 1149.8,766.5 C1146.1,773.4 1142.9,781.3 1138.7,785.5 C1134.5,789.7 1129.2,791.5 1124.5,791.8 C1119.7,792.1 1114.2,790.0 1110.2,787.1 C1106.3,784.2 1102.6,778.9 1100.7,774.4 C1098.9,769.9 1098.1,764.7 1099.2,760.2 C1100.2,755.7 1103.9,751.7 1107.1,747.5 C1110.2,743.3 1115.5,739.6 1118.1,734.9 C1120.8,730.1 1121.8,724.3 1122.9,719.1 C1123.9,713.8 1123.1,708.3 1124.5,703.3Z" fill="url(#gK)"/><path d="M1192.4,714.3 C1192.2,710.6 1193.5,705.8 1195.6,703.3 C1197.7,700.7 1201.1,698.8 1205.1,699.3 C1209.1,699.8 1215.4,703.4 1219.3,706.4 C1223.3,709.4 1227.2,713.5 1228.8,717.5 C1230.4,721.4 1230.4,727.0 1228.8,730.1 C1227.2,733.3 1223.0,736.2 1219.3,736.5 C1215.6,736.7 1210.4,733.6 1206.7,731.7 C1203.0,729.9 1199.6,728.3 1197.2,725.4 C1194.8,722.5 1192.7,718.0 1192.4,714.3Z" fill="url(#gK)"/><ellipse cx="1183.8" cy="759.4" rx="26" ry="23.7" fill="url(#gG)"/><path d="M1152.1,802.9 C1152.1,799.7 1155.4,796.5 1159.2,795.0 C1163.1,793.4 1170.0,793.4 1175.1,793.4 C1180.1,793.4 1186.3,792.6 1189.3,795.0 C1192.3,797.3 1193.2,803.4 1193.2,807.6 C1193.2,811.8 1191.8,817.0 1189.3,820.3 C1186.8,823.6 1181.9,827.1 1178.2,827.4 C1174.5,827.6 1170.3,824.1 1167.1,821.8 C1164.0,819.6 1161.7,817.1 1159.2,813.9 C1156.7,810.8 1152.1,806.0 1152.1,802.9Z" fill="url(#gK)"/></g>
<g id="cH"><g stroke="#b4b4b4" stroke-width="3.2" stroke-linecap="round"><line x1="1485.8" y1="544.6" x2="1469.5" y2="567.5"/><line x1="1443.7" y1="571.3" x2="1464.8" y2="581.9"/><line x1="1399.7" y1="738.7" x2="1390.2" y2="758.8"/><line x1="1347.2" y1="748.2" x2="1335.7" y2="770.2"/><line x1="1327" y1="825.7" x2="1349" y2="808.5"/><line x1="1366.3" y1="839" x2="1372" y2="816.1"/><line x1="1422.7" y1="803.7" x2="1405.5" y2="795.1"/><line x1="1535.5" y1="754" x2="1510.7" y2="740.6"/><line x1="1813.3" y1="743" x2="1789" y2="731"/><line x1="1793.3" y1="795.9" x2="1762" y2="786.3"/><line x1="1335.7" y1="770.2" x2="1358.6" y2="780.7"/><line x1="1335.7" y1="770.2" x2="1306.4" y2="786.5"/><line x1="1358.6" y1="780.7" x2="1349" y2="808.5"/><line x1="1390.2" y1="758.8" x2="1415" y2="766.4"/><line x1="1415" y1="766.4" x2="1405.5" y2="795.1"/><line x1="1349" y1="808.5" x2="1372" y2="816.1"/><line x1="1546" y1="683.2" x2="1548" y2="649.7"/><line x1="1762" y1="786.3" x2="1750.8" y2="803.1"/><line x1="1464.8" y1="581.9" x2="1469.5" y2="567.5"/><line x1="1789" y1="731" x2="1789.3" y2="710.2"/><line x1="1469.5" y1="567.5" x2="1505" y2="610.5"/><line x1="1505" y1="610.5" x2="1543" y2="643"/><line x1="1548" y1="649.7" x2="1546" y2="683.2"/><line x1="1358.6" y1="780.7" x2="1390.2" y2="758.8"/><line x1="1405.5" y1="795.1" x2="1372" y2="816.1"/><line x1="1415" y1="766.4" x2="1443.7" y2="744.4"/></g><ellipse cx="1485.8" cy="544.6" rx="6.5" ry="6.5" fill="url(#gH)"/><ellipse cx="1443.7" cy="571.3" rx="6.5" ry="6.5" fill="url(#gH)"/><ellipse cx="1425.6" cy="694.7" rx="6.5" ry="6.5" fill="url(#gH)"/><ellipse cx="1399.7" cy="738.7" rx="6.5" ry="6.5" fill="url(#gH)"/><ellipse cx="1347.2" cy="748.2" rx="6.5" ry="6.5" fill="url(#gH)"/><ellipse cx="1327" cy="825.7" rx="6.5" ry="6.5" fill="url(#gH)"/><ellipse cx="1366.3" cy="839" rx="6.5" ry="6.5" fill="url(#gH)"/><ellipse cx="1422.7" cy="803.7" rx="6.5" ry="6.5" fill="url(#gH)"/><ellipse cx="1480" cy="793.2" rx="6.5" ry="6.5" fill="url(#gH)"/><ellipse cx="1535.5" cy="754" rx="6.5" ry="6.5" fill="url(#gH)"/><ellipse cx="1580.9" cy="735.8" rx="6.5" ry="6.5" fill="url(#gH)"/><ellipse cx="1613.7" cy="658.9" rx="6.5" ry="6.5" fill="url(#gH)"/><ellipse cx="1677.9" cy="653.2" rx="6.5" ry="6.5" fill="url(#gH)"/><ellipse cx="1634.6" cy="760.7" rx="6.5" ry="6.5" fill="url(#gH)"/><ellipse cx="1694.7" cy="786.3" rx="6.5" ry="6.5" fill="url(#gH)"/><ellipse cx="1813.3" cy="743" rx="6.5" ry="6.5" fill="url(#gH)"/><ellipse cx="1793.3" cy="795.9" rx="6.5" ry="6.5" fill="url(#gH)"/><ellipse cx="1335.7" cy="770.2" rx="10" ry="10" fill="url(#gC)"/><ellipse cx="1358.6" cy="780.7" rx="10" ry="10" fill="url(#gC)"/><ellipse cx="1390.2" cy="758.8" rx="10" ry="10" fill="url(#gC)"/><ellipse cx="1415" cy="766.4" rx="10" ry="10" fill="url(#gC)"/><ellipse cx="1349" cy="808.5" rx="10" ry="10" fill="url(#gC)"/><ellipse cx="1372" cy="816.1" rx="10" ry="10" fill="url(#gC)"/><ellipse cx="1405.5" cy="795.1" rx="10" ry="10" fill="url(#gC)"/><ellipse cx="1546" cy="683.2" rx="10" ry="10" fill="url(#gC)"/><ellipse cx="1510.7" cy="740.6" rx="10" ry="10" fill="url(#gC)"/><ellipse cx="1762" cy="786.3" rx="10" ry="10" fill="url(#gC)"/><ellipse cx="1443.7" cy="744.4" rx="10" ry="10" fill="url(#gC)"/><ellipse cx="1740.4" cy="677.3" rx="10" ry="10" fill="url(#gC)"/><ellipse cx="1464.8" cy="581.9" rx="10" ry="10" fill="url(#gC)"/><ellipse cx="1789" cy="731" rx="10" ry="10" fill="url(#gC)"/><ellipse cx="1469.5" cy="567.5" rx="11" ry="11" fill="url(#gS)"/><ellipse cx="1505" cy="610.5" rx="11" ry="11" fill="url(#gS)"/><ellipse cx="1493.5" cy="655.5" rx="12.4" ry="12.4" fill="url(#gK)"/><ellipse cx="1474.3" cy="647.8" rx="19" ry="20" fill="url(#gK)"/><ellipse cx="1548" cy="649.7" rx="12.4" ry="12.4" fill="url(#gK)"/><ellipse cx="1306.4" cy="786.5" rx="12.4" ry="12.4" fill="url(#gK)"/><ellipse cx="1789.3" cy="710.2" rx="12" ry="19" fill="url(#gK)"/><ellipse cx="1750.8" cy="803.1" rx="13" ry="12" fill="url(#gK)"/><path d="M1432.3,699.5 C1433.7,695.3 1438.0,690.7 1443.7,688.0 C1449.5,685.3 1459.3,684.8 1466.7,683.2 C1474.0,681.6 1480.4,679.1 1487.7,678.4 C1495.0,677.8 1504.0,677.5 1510.7,679.4 C1517.4,681.3 1523.9,685.6 1527.9,689.9 C1531.9,694.2 1533.9,700.4 1534.6,705.2 C1535.2,710.0 1534.4,715.1 1531.7,718.6 C1529.0,722.1 1523.1,725.4 1518.3,726.2 C1513.5,727.0 1507.5,725.6 1503.0,723.4 C1498.6,721.1 1495.0,715.4 1491.5,712.9 C1488.0,710.3 1485.0,708.1 1482.0,708.1 C1479.0,708.1 1476.9,710.6 1473.4,712.9 C1469.9,715.1 1465.6,720.0 1460.9,721.5 C1456.3,722.9 1449.9,722.9 1445.6,721.5 C1441.3,720.0 1437.4,716.5 1435.1,712.9 C1432.9,709.2 1430.8,703.6 1432.3,699.5Z" fill="url(#gG)"/><path d="M1445.6,751.1 C1445.3,747.1 1448.5,742.8 1453.3,740.6 C1458.1,738.4 1467.6,737.7 1474.3,737.7 C1481.0,737.7 1488.4,738.4 1493.5,740.6 C1498.6,742.8 1502.7,747.1 1504.9,751.1 C1507.2,755.1 1508.1,760.0 1506.8,764.5 C1505.6,769.0 1501.1,774.8 1497.3,777.9 C1493.5,780.9 1488.7,782.7 1483.9,782.7 C1479.1,782.7 1473.4,780.9 1468.6,777.9 C1463.8,774.8 1459.0,769.0 1455.2,764.5 C1451.4,760.0 1446.0,755.1 1445.6,751.1Z" fill="url(#gK)"/><path d="M1560.0,703.7 C1560.2,698.9 1560.4,690.4 1562.4,686.1 C1564.4,681.8 1567.0,679.7 1572.1,678.1 C1577.1,676.5 1585.7,676.4 1592.9,676.5 C1600.1,676.6 1609.9,677.3 1615.3,678.9 C1620.8,680.5 1624.4,683.6 1625.8,686.1 C1627.1,688.6 1625.9,692.0 1623.4,694.1 C1620.8,696.3 1613.7,696.3 1610.5,698.9 C1607.3,701.6 1606.8,706.1 1604.1,710.2 C1601.5,714.2 1598.2,719.8 1594.5,723.0 C1590.8,726.2 1586.0,729.1 1581.7,729.4 C1577.4,729.7 1572.2,727.0 1568.9,724.6 C1565.5,722.2 1563.1,718.4 1561.6,715.0 C1560.2,711.5 1559.9,708.6 1560.0,703.7Z" fill="url(#gK)"/><path d="M1629.8,705.3 C1629.9,700.8 1630.8,695.2 1633.0,690.9 C1635.1,686.6 1637.8,682.5 1642.6,679.7 C1647.4,676.9 1655.4,675.4 1661.8,674.1 C1668.2,672.7 1676.4,670.7 1681.1,671.7 C1685.7,672.6 1688.8,676.8 1689.9,679.7 C1691.0,682.6 1689.5,686.9 1687.5,689.3 C1685.5,691.7 1680.5,690.6 1677.9,694.1 C1675.2,697.6 1673.3,704.3 1671.5,710.2 C1669.6,716.0 1668.0,723.5 1666.6,729.4 C1665.3,735.3 1665.3,741.8 1663.4,745.4 C1661.6,749.0 1658.4,751.0 1655.4,751.0 C1652.5,751.0 1648.7,748.8 1645.8,745.4 C1642.9,742.1 1640.1,735.5 1637.8,731.0 C1635.5,726.5 1633.5,722.4 1632.2,718.2 C1630.8,713.9 1629.6,709.9 1629.8,705.3Z" fill="url(#gD)"/><path d="M1701.9,690.9 C1703.1,685.0 1703.8,682.2 1706.7,679.7 C1709.7,677.2 1715.3,676.0 1719.5,675.7 C1723.8,675.4 1729.3,675.6 1732.4,678.1 C1735.4,680.6 1737.4,685.6 1738.0,690.9 C1738.5,696.3 1736.8,703.2 1735.6,710.2 C1734.4,717.1 1733.4,725.7 1730.8,732.6 C1728.1,739.5 1723.0,746.0 1719.5,751.8 C1716.1,757.7 1713.7,763.9 1709.9,767.9 C1706.2,771.9 1701.4,775.1 1697.1,775.9 C1692.8,776.7 1687.8,774.8 1684.3,772.7 C1680.8,770.5 1677.9,766.8 1676.3,763.1 C1674.7,759.3 1673.9,754.2 1674.7,750.2 C1675.5,746.2 1677.9,742.5 1681.1,739.0 C1684.3,735.5 1690.8,733.4 1693.9,729.4 C1697.0,725.4 1698.2,721.4 1699.5,715.0 C1700.8,708.6 1700.7,696.8 1701.9,690.9Z" fill="url(#gK)"/><ellipse cx="1758.8" cy="747.8" rx="23" ry="24" fill="url(#gG)"/></g>
</g>
<g filter="url(#b2)">
<text x="25" y="69" font-family="'Liberation Serif', serif" font-size="84" font-weight="bold" fill="#000" text-anchor="start" textLength="60" lengthAdjust="spacingAndGlyphs">A</text>
<text x="13" y="1153" font-family="'Liberation Serif', serif" font-size="80" font-weight="bold" fill="#000" text-anchor="start" textLength="51" lengthAdjust="spacingAndGlyphs">B</text>
<text x="152" y="150" font-family="'Liberation Serif', serif" font-size="56" font-weight="bold" fill="#000" text-anchor="start" textLength="25" lengthAdjust="spacingAndGlyphs">a</text>
<text x="755" y="149" font-family="'Liberation Serif', serif" font-size="56" font-weight="bold" fill="#000" text-anchor="start" textLength="30" lengthAdjust="spacingAndGlyphs">b</text>
<text x="1349" y="148" font-family="'Liberation Serif', serif" font-size="56" font-weight="bold" fill="#000" text-anchor="start" textLength="24" lengthAdjust="spacingAndGlyphs">c</text>
<text x="177" y="511" font-family="'Liberation Serif', serif" font-size="41" font-weight="bold" fill="#000" text-anchor="start" textLength="123" lengthAdjust="spacingAndGlyphs" transform="translate(0 511) scale(1 1.17) translate(0 -511)">LUMO</text>
<rect x="321" y="493.5" width="282" height="10" rx="3" fill="#000"/>
<text x="391" y="478" font-family="'Liberation Serif', serif" font-size="42" font-weight="bold" fill="#000" text-anchor="start" textLength="141" lengthAdjust="spacingAndGlyphs">-1.42 eV</text>
<text x="760" y="482" font-family="'Liberation Serif', serif" font-size="41" font-weight="bold" fill="#000" text-anchor="start" textLength="125" lengthAdjust="spacingAndGlyphs">LUMO</text>
<rect x="904" y="466.5" width="283" height="11" rx="3" fill="#000"/>
<text x="975" y="454" font-family="'Liberation Serif', serif" font-size="42" font-weight="bold" fill="#000" text-anchor="start" textLength="142" lengthAdjust="spacingAndGlyphs">-1.10 eV</text>
<text x="1336" y="499" font-family="'Liberation Serif', serif" font-size="41" font-weight="bold" fill="#000" text-anchor="start" textLength="123" lengthAdjust="spacingAndGlyphs" transform="translate(0 499) scale(1 1.17) translate(0 -499)">LUMO</text>
<rect x="1478" y="478.5" width="280" height="12" rx="3" fill="#000"/>
<text x="1546" y="466" font-family="'Liberation Serif', serif" font-size="42" font-weight="bold" fill="#000" text-anchor="start" textLength="139" lengthAdjust="spacingAndGlyphs">-1.24 eV</text>
<text x="176" y="998" font-family="'Liberation Serif', serif" font-size="41" font-weight="bold" fill="#000" text-anchor="start" textLength="131" lengthAdjust="spacingAndGlyphs" transform="translate(0 998) scale(1 1.08) translate(0 -998)">HOMO</text>
<rect x="321" y="982.5" width="282" height="11" rx="3" fill="#000"/>
<text x="390" y="969" font-family="'Liberation Serif', serif" font-size="42" font-weight="bold" fill="#000" text-anchor="start" textLength="140" lengthAdjust="spacingAndGlyphs">-7.70 eV</text>
<text x="760" y="902" font-family="'Liberation Serif', serif" font-size="41" font-weight="bold" fill="#000" text-anchor="start" textLength="131" lengthAdjust="spacingAndGlyphs">HOMO</text>
<rect x="904" y="887.5" width="283" height="11" rx="3" fill="#000"/>
<text x="975" y="875" font-family="'Liberation Serif', serif" font-size="42" font-weight="bold" fill="#000" text-anchor="start" textLength="141" lengthAdjust="spacingAndGlyphs">-6.47 eV</text>
<text x="1336" y="893" font-family="'Liberation Serif', serif" font-size="41" font-weight="bold" fill="#000" text-anchor="start" textLength="131" lengthAdjust="spacingAndGlyphs">HOMO</text>
<rect x="1478" y="878.0" width="280" height="11" rx="3" fill="#000"/>
<text x="1546" y="866" font-family="'Liberation Serif', serif" font-size="42" font-weight="bold" fill="#000" text-anchor="start" textLength="139" lengthAdjust="spacingAndGlyphs">-6.34 eV</text>
<text x="348" y="1062" font-family="'Liberation Serif', serif" font-size="41" font-weight="bold" textLength="223" lengthAdjust="spacingAndGlyphs" fill="#000"><tspan font-weight="normal">&#916;</tspan><tspan font-style="italic">E</tspan> = 6.28 eV</text>
<text x="936" y="970" font-family="'Liberation Serif', serif" font-size="41" font-weight="bold" textLength="223" lengthAdjust="spacingAndGlyphs" fill="#000"><tspan font-weight="normal">&#916;</tspan><tspan font-style="italic">E</tspan> = 5.37 eV</text>
<text x="1506" y="958" font-family="'Liberation Serif', serif" font-size="41" font-weight="bold" textLength="224" lengthAdjust="spacingAndGlyphs" fill="#000"><tspan font-weight="normal">&#916;</tspan><tspan font-style="italic">E</tspan> = 5.10 eV</text>
<text x="621" y="1557" font-family="'Liberation Serif', serif" font-size="62" font-weight="bold" fill="#000" text-anchor="start" textLength="73" lengthAdjust="spacingAndGlyphs">Hg</text>
<text x="696" y="1535" font-family="'Liberation Serif', serif" font-size="34" font-weight="bold" fill="#000" text-anchor="start" textLength="35" lengthAdjust="spacingAndGlyphs">2+</text>
<text x="1163" y="1554" font-family="'Liberation Serif', serif" font-size="61" font-weight="bold" fill="#000" text-anchor="start" textLength="156" lengthAdjust="spacingAndGlyphs">MeHg</text>
<text x="1320" y="1532" font-family="'Liberation Serif', serif" font-size="34" font-weight="bold" fill="#000" text-anchor="start" textLength="18" lengthAdjust="spacingAndGlyphs">+</text>
</g>
<g filter="url(#b3)">

<g>
 <rect x="651" y="1186" width="87" height="264" fill="#0d0d0d"/>
 <rect x="651" y="1186" width="87" height="4" fill="#3c3c3c"/>
 <rect x="663" y="1190" width="68" height="137" fill="#040404"/>
 <rect x="661" y="1190" width="3" height="255" fill="#1c1c1c"/>
 <rect x="730" y="1190" width="3" height="255" fill="#1a1a1a"/>
 <rect x="663" y="1332" width="68" height="112" fill="#1b1b1b"/>
 <path d="M663,1326 Q664,1336 676,1337 L718,1337 Q730,1336 731,1326 L731,1333 Q728,1341 718,1341 L676,1341 Q666,1341 663,1333 Z" fill="#454545"/>
 <rect x="664" y="1438" width="66" height="4" fill="#333"/>
 <circle cx="700.5" cy="1304" r="1.6" fill="#444"/><circle cx="712" cy="1265" r="1.2" fill="#2a2a2a"/>
</g>
<g>
 <rect x="1203" y="1190" width="87" height="259" fill="#262626"/>
 <rect x="1205" y="1193" width="83" height="253" fill="#0c0c0c"/>
 <rect x="1213" y="1193" width="70" height="6" fill="#080808"/>
 <rect x="1214" y="1194" width="68" height="145" fill="#010101"/>
 <rect x="1213.5" y="1327" width="69.5" height="112" fill="url(#gLiq)"/>
 <rect x="1213.5" y="1327" width="69.5" height="112" fill="none" stroke="#7a7a7a" stroke-width="2.5"/>
 <path d="M1214.5,1327 Q1216,1336 1227,1336.5 L1269,1336.5 Q1280,1336 1281.5,1327 L1281.5,1316 L1214.5,1316 Z" fill="#010101"/>
 <rect x="1216" y="1432" width="65" height="5" fill="#858585"/>
 <rect x="1211.5" y="1194" width="3" height="141" fill="#202020"/>
 <rect x="1281.5" y="1194" width="3" height="141" fill="#1e1e1e"/>
</g>


<rect x="592" y="1459.5" width="189" height="10" fill="#000"/>
<path d="M581.5,1464.5 L598,1455.5 L596,1464.5 L598,1473.5 Z" fill="#000" stroke="#000" stroke-width="1.5" stroke-linejoin="round"/>
<rect x="1131" y="1459.5" width="205" height="10" fill="#000"/>
<path d="M1347.5,1464.5 L1331,1455.5 L1333,1464.5 L1331,1473.5 Z" fill="#000" stroke="#000" stroke-width="1.5" stroke-linejoin="round"/>

<g stroke="#000" stroke-width="4.2" stroke-linecap="butt" stroke-linejoin="miter" fill="none">
<polygon points="206,1140 250,1159 250,1207 206,1228 164,1207 164,1159" fill="none"/>
<line x1="212" y1="1155" x2="239" y2="1168"/>
<line x1="178" y1="1170" x2="178" y2="1197"/>
<line x1="208" y1="1212" x2="239" y2="1198"/>
<line x1="206" y1="1140" x2="206" y2="1090"/>
<line x1="207" y1="1091" x2="180" y2="1077"/>
<line x1="195" y1="1102" x2="172" y2="1090"/>
<line x1="250" y1="1207" x2="292" y2="1228"/>
<polygon points="292,1228 336,1207 379,1228 379,1277 336,1298 292,1277" fill="none"/>
<line x1="338" y1="1223" x2="365" y2="1236"/>
<line x1="306" y1="1237" x2="306" y2="1267"/>
<line x1="338" y1="1282" x2="365" y2="1269"/>
<line x1="379" y1="1228" x2="411" y2="1214"/>
<line x1="379" y1="1277" x2="420" y2="1296"/>
<line x1="420" y1="1293" x2="449" y2="1279"/>
<line x1="424" y1="1303" x2="453" y2="1289"/>
<line x1="420" y1="1294" x2="420" y2="1346"/>
<line x1="419" y1="1345" x2="465" y2="1365"/>
<line x1="436" y1="1337" x2="474" y2="1354"/>
<line x1="465" y1="1364" x2="465" y2="1413"/>
<polygon points="465,1413 507,1432 507,1483 465,1503 420,1483 420,1432" fill="none"/>
<line x1="436" y1="1442" x2="464" y2="1429"/>
<line x1="493" y1="1444" x2="493" y2="1472"/>
<line x1="436" y1="1474" x2="464" y2="1488"/>
<line x1="465" y1="1503" x2="465" y2="1534"/>
<line x1="449" y1="1558" x2="420" y2="1573"/>
<line x1="481" y1="1558" x2="506" y2="1573"/>
<polygon points="836,1193 880,1212 880,1262 836,1282 796,1262 796,1212" fill="none"/>
<line x1="838" y1="1207" x2="867" y2="1220"/>
<line x1="810" y1="1222" x2="810" y2="1252"/>
<line x1="838" y1="1268" x2="867" y2="1254"/>
<line x1="836" y1="1193" x2="836" y2="1142"/>
<line x1="837" y1="1143" x2="810" y2="1129"/>
<line x1="825" y1="1153" x2="803" y2="1142"/>
<line x1="880" y1="1262" x2="920" y2="1281"/>
<polygon points="920,1281 962,1262 1004,1281 1004,1333 962,1354 920,1333" fill="none"/>
<line x1="962" y1="1277" x2="989" y2="1291"/>
<line x1="934" y1="1291" x2="934" y2="1323"/>
<line x1="962" y1="1338" x2="989" y2="1325"/>
<line x1="1004" y1="1281" x2="1033" y2="1268"/>
<line x1="1004" y1="1333" x2="1043" y2="1352"/>
<line x1="1043" y1="1348" x2="1071" y2="1334"/>
<line x1="1046" y1="1358" x2="1074" y2="1345"/>
<line x1="1043" y1="1350" x2="1043" y2="1401"/>
<line x1="1042" y1="1400" x2="1086" y2="1421"/>
<line x1="1058" y1="1394" x2="1094" y2="1411"/>
<line x1="1086" y1="1420" x2="1086" y2="1472"/>
<polygon points="1086,1472 1127,1491 1127,1543 1086,1562 1043,1543 1043,1491" fill="none"/>
<line x1="1058" y1="1501" x2="1085" y2="1488"/>
<line x1="1113" y1="1502" x2="1113" y2="1529"/>
<line x1="1058" y1="1532" x2="1085" y2="1545"/>
<line x1="1086" y1="1562" x2="1086" y2="1594"/>
<line x1="1071" y1="1619" x2="1044" y2="1632"/>
<line x1="1102" y1="1619" x2="1127" y2="1632"/>
<line x1="464.3" y1="1563" x2="472.5" y2="1608" stroke-dasharray="4 5.5" stroke-width="3.8"/>
<line x1="503" y1="1634.5" x2="548" y2="1647" stroke-dasharray="3.5 5" stroke-width="3"/>
<line x1="1716" y1="1317" x2="1734" y2="1288" stroke-dasharray="4 3.5" stroke-width="5"/>
</g>
<g stroke="#000" stroke-width="4.9" stroke-linecap="butt" stroke-linejoin="miter" fill="none">
<polygon points="1446.5,1191 1490,1211 1490,1261 1446.5,1282 1403,1261 1403,1211" fill="none"/>
<line x1="1448" y1="1206" x2="1477" y2="1219"/>
<line x1="1417" y1="1220" x2="1417" y2="1251"/>
<line x1="1448" y1="1267" x2="1477" y2="1254"/>
<line x1="1446.5" y1="1191" x2="1446.5" y2="1142"/>
<line x1="1447.5" y1="1143" x2="1417" y2="1129"/>
<line x1="1434" y1="1151" x2="1411" y2="1140"/>
<line x1="1490" y1="1261" x2="1533" y2="1281"/>
<polygon points="1533,1281 1577.6,1260 1623,1281 1623,1333 1577.6,1353 1533,1333" fill="none"/>
<line x1="1579" y1="1276" x2="1607" y2="1289"/>
<line x1="1548.5" y1="1291" x2="1548.5" y2="1322"/>
<line x1="1579" y1="1338" x2="1607" y2="1324"/>
<line x1="1623" y1="1281" x2="1652" y2="1267.6"/>
<line x1="1623" y1="1333" x2="1665.7" y2="1352.4"/>
<line x1="1665.7" y1="1352.4" x2="1698" y2="1338"/>
<line x1="1665" y1="1340" x2="1687" y2="1329.5"/>
<line x1="1665.7" y1="1351" x2="1665.7" y2="1402"/>
<line x1="1664.7" y1="1401" x2="1710.5" y2="1422"/>
<line x1="1679.6" y1="1392.5" x2="1717.8" y2="1409.6"/>
<line x1="1710.5" y1="1421" x2="1710.5" y2="1471.5"/>
<polygon points="1710.5,1471.5 1752.4,1490.8 1752.4,1543 1710.5,1563.7 1664,1543 1664,1490.8" fill="none"/>
<line x1="1679.6" y1="1500.6" x2="1708.7" y2="1488"/>
<line x1="1739.7" y1="1502.5" x2="1739.7" y2="1528.7"/>
<line x1="1679.6" y1="1531" x2="1708.7" y2="1546"/>
<line x1="1710.5" y1="1563.7" x2="1710.5" y2="1592.8"/>
<line x1="1696" y1="1619" x2="1665.7" y2="1633.6"/>
<line x1="1725" y1="1619" x2="1752.4" y2="1633.6"/>
<line x1="1747" y1="1258.5" x2="1754" y2="1251"/>
</g>
<text x="152" y="1083" font-family="'Liberation Sans', sans-serif" font-size="30" font-weight="normal" fill="#111" text-anchor="start" textLength="23" lengthAdjust="spacingAndGlyphs" stroke="#111" stroke-width="0.7">O</text>
<text x="410" y="1216" font-family="'Liberation Sans', sans-serif" font-size="30" font-weight="normal" fill="#111" text-anchor="start" textLength="44" lengthAdjust="spacingAndGlyphs" stroke="#111" stroke-width="0.7">OH</text>
<text x="452" y="1285" font-family="'Liberation Sans', sans-serif" font-size="30" font-weight="normal" fill="#111" text-anchor="start" textLength="24" lengthAdjust="spacingAndGlyphs" stroke="#111" stroke-width="0.7">O</text>
<text x="452" y="1560" font-family="'Liberation Sans', sans-serif" font-size="32" font-weight="normal" fill="#111" text-anchor="start" textLength="23" lengthAdjust="spacingAndGlyphs" stroke="#111" stroke-width="0.7">N</text>
<text x="461" y="1635.5" font-family="'Liberation Sans', sans-serif" font-size="35" font-weight="normal" fill="#222" text-anchor="start" textLength="38" lengthAdjust="spacingAndGlyphs" stroke="#222" stroke-width="1.2">Hg</text>
<text x="501" y="1623" font-family="'Liberation Sans', sans-serif" font-size="24" font-weight="normal" fill="#555" text-anchor="start" textLength="10" lengthAdjust="spacingAndGlyphs" stroke="#555" stroke-width="0.8">2</text>
<text x="512.5" y="1621" font-family="'Liberation Sans', sans-serif" font-size="22" font-weight="bold" fill="#444" text-anchor="start" textLength="13" lengthAdjust="spacingAndGlyphs" stroke="#444" stroke-width="1.0">+</text>
<text x="546.5" y="1660" font-family="'Liberation Sans', sans-serif" font-size="29" font-weight="normal" fill="#222" text-anchor="start" textLength="26" lengthAdjust="spacingAndGlyphs" stroke="#222" stroke-width="1.1">H</text>
<text x="570" y="1668" font-family="'Liberation Sans', sans-serif" font-size="23" font-weight="normal" fill="#444" text-anchor="start" textLength="11" lengthAdjust="spacingAndGlyphs" stroke="#444" stroke-width="0.7">2</text>
<text x="584" y="1660" font-family="'Liberation Sans', sans-serif" font-size="29" font-weight="normal" fill="#222" text-anchor="start" textLength="23" lengthAdjust="spacingAndGlyphs" stroke="#222" stroke-width="1.1">O</text>
<text x="786" y="1135" font-family="'Liberation Sans', sans-serif" font-size="28" font-weight="normal" fill="#111" text-anchor="start" textLength="21" lengthAdjust="spacingAndGlyphs" stroke="#111" stroke-width="0.7">O</text>
<text x="1034" y="1271" font-family="'Liberation Sans', sans-serif" font-size="29" font-weight="normal" fill="#111" text-anchor="start" textLength="41" lengthAdjust="spacingAndGlyphs" stroke="#111" stroke-width="0.7">OH</text>
<text x="1075" y="1342" font-family="'Liberation Sans', sans-serif" font-size="30" font-weight="normal" fill="#111" text-anchor="start" textLength="22" lengthAdjust="spacingAndGlyphs" stroke="#111" stroke-width="0.7">O</text>
<text x="1074" y="1619" font-family="'Liberation Sans', sans-serif" font-size="32" font-weight="normal" fill="#111" text-anchor="start" textLength="23" lengthAdjust="spacingAndGlyphs" stroke="#111" stroke-width="0.7">N</text>
<text x="806" y="1098" font-family="'Liberation Sans', sans-serif" font-size="43" font-weight="normal" fill="#333" text-anchor="start" textLength="59" lengthAdjust="spacingAndGlyphs" stroke="#333" stroke-width="0.9">O3</text>
<text x="1111" y="1338" font-family="'Liberation Sans', sans-serif" font-size="43" font-weight="normal" fill="#333" text-anchor="start" textLength="58" lengthAdjust="spacingAndGlyphs" stroke="#333" stroke-width="0.9">O2</text>
<text x="1067" y="1686" font-family="'Liberation Sans', sans-serif" font-size="41" font-weight="bold" fill="#333" text-anchor="start" textLength="50" lengthAdjust="spacingAndGlyphs" stroke="#333" stroke-width="0.7">N1</text>
<text x="1391" y="1134" font-family="'Liberation Sans', sans-serif" font-size="30" font-weight="normal" fill="#111" text-anchor="start" textLength="23" lengthAdjust="spacingAndGlyphs" stroke="#111" stroke-width="0.7">O</text>
<text x="1653" y="1269" font-family="'Liberation Sans', sans-serif" font-size="30" font-weight="bold" fill="#111" text-anchor="start" textLength="45" lengthAdjust="spacingAndGlyphs" stroke="#111" stroke-width="0.7">OH</text>
<text x="1699" y="1340" font-family="'Liberation Sans', sans-serif" font-size="30" font-weight="normal" fill="#111" text-anchor="start" textLength="23" lengthAdjust="spacingAndGlyphs" stroke="#111" stroke-width="0.7">O</text>
<text x="1699" y="1619" font-family="'Liberation Sans', sans-serif" font-size="33" font-weight="normal" fill="#111" text-anchor="start" textLength="21" lengthAdjust="spacingAndGlyphs" stroke="#111" stroke-width="0.7">N</text>
<text x="1720" y="1284" font-family="'Liberation Sans', sans-serif" font-size="29" font-weight="normal" fill="#222" text-anchor="start" textLength="37" lengthAdjust="spacingAndGlyphs" stroke="#222" stroke-width="1.2">Hg</text>
<text x="1740" y="1312" font-family="'Liberation Sans', sans-serif" font-size="26" font-weight="bold" fill="#111" text-anchor="start" textLength="17" lengthAdjust="spacingAndGlyphs" stroke="#111" stroke-width="0.7">+</text>
</g>
</svg>
</body></html>
